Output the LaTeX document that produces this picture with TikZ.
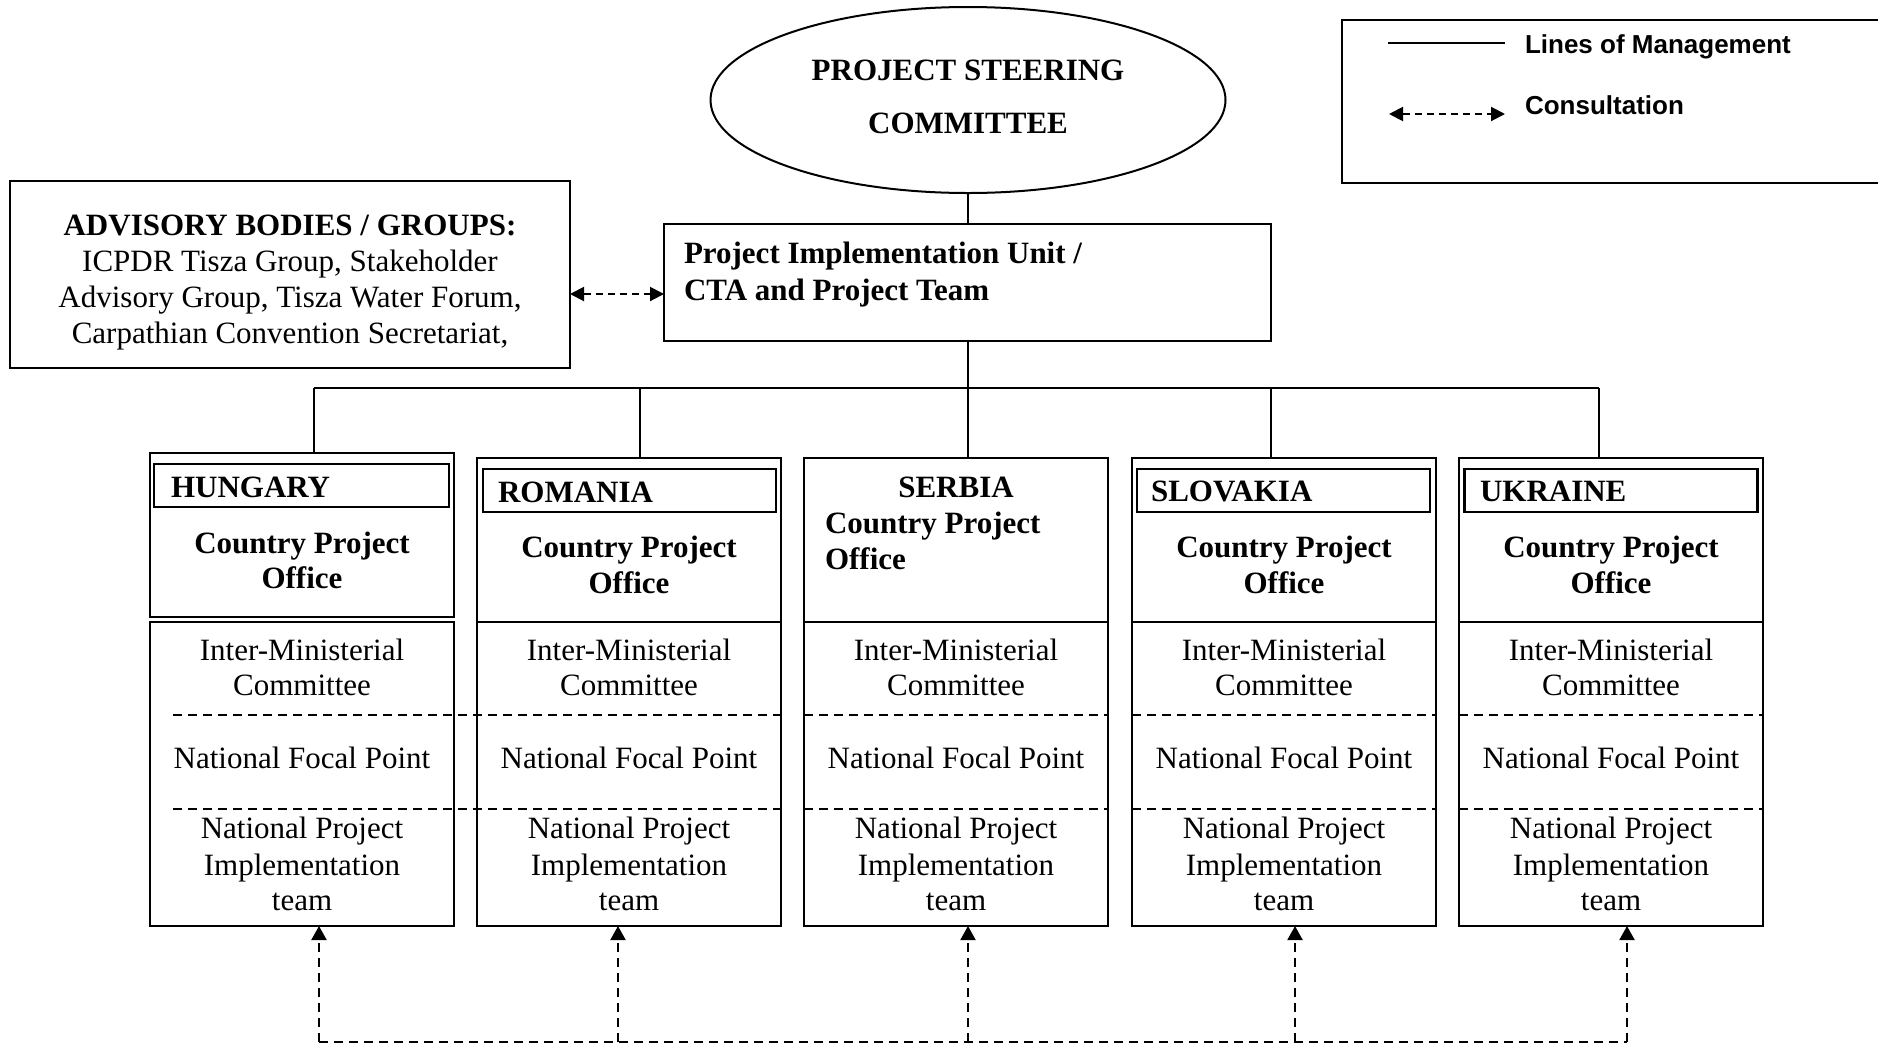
\documentclass[tikz,border=0pt]{standalone}
\usepackage{fontspec}
\setmainfont{Liberation Serif}
\newfontfamily\legendfont{Liberation Sans}
\usetikzlibrary{shapes.geometric,arrows.meta}
\begin{document}
\begin{tikzpicture}[x=0.5pt,y=-0.5pt,
  every node/.style={inner sep=0pt,outer sep=0pt},
  box/.style={draw,line width=1pt,rectangle},
  titlebox/.style={draw,line width=1.2pt,rectangle,minimum width=146.5pt,minimum height=21.5pt},
  txt/.style={anchor=base,font=\fontsize{15.5pt}{18pt}\selectfont},
  btxt/.style={anchor=base,font=\fontsize{15.5pt}{18pt}\selectfont\bfseries},
  ltxt/.style={anchor=base west,font=\legendfont\fontsize{13pt}{15pt}\selectfont\bfseries},
  mgmt/.style={line width=1pt},
  cons/.style={line width=1pt,dash pattern=on 4.5pt off 3pt,-{Triangle[length=7pt,width=7.5pt]}},
  consboth/.style={line width=1pt,dash pattern=on 3.5pt off 2.5pt,{Triangle[length=7pt,width=7pt]}-{Triangle[length=7pt,width=7pt]}},
  divider/.style={line width=1pt,dash pattern=on 4.5pt off 3pt}
]
\useasboundingbox (0,0) rectangle (1878,1045);
\fill[white] (0,0) rectangle (1878,1045);
\begin{scope}
\clip (0,0) rectangle (1878,1045);

% Steering committee
\node[draw,ellipse,line width=1pt,minimum width=257.5pt,minimum height=93pt] (psc) at (968,100) {};
\node[btxt] (psc1) at (968,80) {PROJECT STEERING};
\node[btxt] (psc2) at (968,133) {COMMITTEE};

% Advisory bodies
\node[box,minimum width=280pt,minimum height=93.5pt] (adv) at (290,274.5) {};
\node[btxt] (adv1) at (290,235) {ADVISORY BODIES / GROUPS:};
\node[txt] (adv2) at (290,271) {ICPDR Tisza Group, Stakeholder};
\node[txt] (adv3) at (290,307) {Advisory Group, Tisza Water Forum,};
\node[txt] (adv4) at (290,343) {Carpathian Convention Secretariat,};

% PIU
\node[box,minimum width=303.5pt,minimum height=58.5pt] (piu) at (967.5,282.5) {};
\node[btxt,anchor=base west] (piu1) at (684,263) {Project Implementation Unit /};
\node[btxt,anchor=base west] (piu2) at (684,300) {CTA and Project Team};

% Legend
\node[box,minimum width=279pt,minimum height=81.5pt] (legend) at (1621,101.5) {};
\coordinate (lm1) at (1388,43);
\coordinate (lm2) at (1505,43);
\coordinate (lc1) at (1389,114);
\coordinate (lc2) at (1505,114);
\draw[mgmt] (lm1) -- (lm2);
\draw[consboth] (lc1) -- (lc2);
\node[ltxt] (lmt) at (1525,53) {Lines of Management};
\node[ltxt] (lct) at (1525,114) {Consultation};

% Upper country sections
\node[box,minimum width=152pt,minimum height=82pt] (up1) at (302,535) {};
\node[titlebox,minimum width=147.5pt] (tb1) at (301.5,485.5) {};
\node[btxt,anchor=base west] (tt1) at (171,497) {HUNGARY};
\node[btxt] (cp1a) at (302,553) {Country Project};
\node[btxt] (cp1b) at (302,588) {Office};

\node[box,minimum width=152pt,minimum height=82pt] (up2) at (629,540) {};
\node[titlebox] (tb2) at (629.5,490.5) {};
\node[btxt,anchor=base west] (tt2) at (498,502) {ROMANIA};
\node[btxt] (cp2a) at (629,557) {Country Project};
\node[btxt] (cp2b) at (629,593) {Office};

\node[box,minimum width=152pt,minimum height=82pt] (up3) at (956,540) {};
\node[btxt] (tt3) at (956,497) {SERBIA};
\node[btxt,anchor=base west] (cp3a) at (825,533) {Country Project};
\node[btxt,anchor=base west] (cp3b) at (825,569) {Office};

\node[box,minimum width=152pt,minimum height=82pt] (up4) at (1284,540) {};
\node[titlebox] (tb4) at (1283.5,490.5) {};
\node[btxt,anchor=base west] (tt4) at (1151,501) {SLOVAKIA};
\node[btxt] (cp4a) at (1284,557) {Country Project};
\node[btxt] (cp4b) at (1284,593) {Office};

\node[box,minimum width=152pt,minimum height=82pt] (up5) at (1611,540) {};
\node[titlebox] (tb5) at (1611,490.5) {};
\node[btxt,anchor=base west] (tt5) at (1480,501) {UKRAINE};
\node[btxt] (cp5a) at (1611,557) {Country Project};
\node[btxt] (cp5b) at (1611,593) {Office};

% Lower country sections
\foreach \i/\L in {1/150,2/477,3/804,4/1132,5/1459}{
  \node[box,minimum width=152pt,minimum height=152pt] (low\i) at ({\L+152},774) {};
  \node[txt] (im\i) at ({\L+152},660) {Inter-Ministerial};
  \node[txt] (cm\i) at ({\L+152},695) {Committee};
  \node[txt] (fp\i) at ({\L+152},768) {National Focal Point};
  \node[txt] (np\i) at ({\L+152},838) {National Project};
  \node[txt] (ip\i) at ({\L+152},875) {Implementation};
  \node[txt] (tm\i) at ({\L+152},910) {team};
}
\draw[divider] (173,715) -- (781,715);
\draw[divider] (173,809) -- (781,809);
\foreach \L in {804,1132,1459}{
  \draw[divider] (\L,715) -- ({\L+304},715);
  \draw[divider] (\L,809) -- ({\L+304},809);
}

% Lines of management
\coordinate (bus) at (968,388);
\coordinate (d1) at (314,388);
\coordinate (d2) at (640,388);
\coordinate (d3) at (968,388);
\coordinate (d4) at (1271,388);
\coordinate (d5) at (1599,388);
\draw[mgmt] (psc.south) -- (psc.south |- piu.north);
\draw[mgmt] (piu.south) -- (piu.south |- bus);
\draw[mgmt] (d1) -- (d5);
\foreach \i in {1,...,5}{
  \draw[mgmt] (d\i) -- (d\i |- up\i.north);
}

% Consultation
\draw[consboth] ([yshift=-9.75pt]adv.east) -- ([yshift=-5.75pt]piu.west);
\coordinate (b1) at (319,1042);
\coordinate (b2) at (618,1042);
\coordinate (b3) at (968,1042);
\coordinate (b4) at (1295,1042);
\coordinate (b5) at (1627,1042);
\draw[divider] (b1) -- (b5);
\foreach \i in {1,...,5}{
  \draw[cons] (b\i) -- (b\i |- low\i.south);
}
\end{scope}
\end{tikzpicture}
\end{document}
